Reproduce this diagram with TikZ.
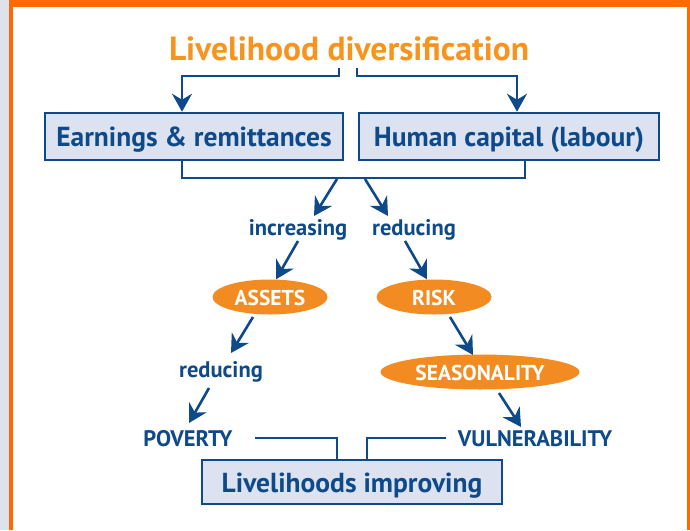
\documentclass[tikz,border=0pt]{standalone}
\usepackage{fontspec}
\setmainfont{PT Sans}
\usetikzlibrary{arrows.meta,shapes.geometric,calc}
\definecolor{dblue}{HTML}{0E4A8A}
\definecolor{boxfill}{HTML}{DCE2F0}
\definecolor{titleor}{HTML}{F7941D}
\definecolor{ellor}{HTML}{F28C22}
\definecolor{frameor}{HTML}{FF6A00}
\definecolor{strip}{HTML}{DDE3EC}
\tikzset{
  conn/.style={draw=dblue, line width=2.6pt},
  arr/.style={conn, -{Stealth[length=18pt,width=20pt,inset=6pt]}},
  bluebox/.style={text height=20pt, text depth=0pt, draw=dblue, line width=2.5pt, fill=boxfill, inner sep=0pt,
     text=dblue, font=\fontsize{27.5}{30}\selectfont\bfseries},
  lbl/.style={text height=14.5pt, text depth=0pt, text=dblue, inner sep=1pt, font=\fontsize{22.5}{25}\selectfont\bfseries},
  oval/.style={text height=16pt, text depth=0pt, ellipse, fill=ellor, inner sep=0pt, minimum height=35pt,
     text=white, font=\fontsize{21.5}{24}\selectfont\bfseries},
  ttl/.style={text height=21pt, text depth=0pt, text=titleor, inner sep=0pt, font=\fontsize{33.5}{36}\selectfont\bfseries}
}
\begin{document}
\begin{tikzpicture}[x=1pt,y=-1pt]
% frame
\useasboundingbox (0,0) rectangle (690,530);
\fill[white] (0,0) rectangle (690,530);
\fill[strip] (0,0) rectangle (9,530);
\fill[frameor] (9,0) rectangle (12.5,530);
\fill[frameor] (9,0) rectangle (690,7);
\fill[frameor] (687,0) rectangle (690,530);
% nodes
\node[ttl] (title) at (349,50) {Livelihood diversification};
\node[bluebox, minimum width=298pt, minimum height=47pt] (earn) at (194,136.5) {Earnings \& remittances};
\node[bluebox, minimum width=300pt, minimum height=47pt] (hum) at (509,136.5) {Human capital (labour)};
\node[lbl] (inc) at (298,228) {increasing};
\node[lbl] (red1) at (414,228) {reducing};
\node[oval, minimum width=115pt] (assets) at (270,297) {ASSETS};
\node[oval, minimum width=115pt] (risk) at (434,297) {RISK};
\node[lbl] (red2) at (221,370) {reducing};
\node[oval, minimum width=199pt] (seas) at (480,372) {SEASONALITY};
\node[lbl] (pov) at (188,439) {POVERTY};
\node[lbl] (vul) at (535,439) {VULNERABILITY};
\node[bluebox, minimum width=300pt, minimum height=44pt] (impr) at (352,482) {Livelihoods improving};
% connectors from title
\coordinate (t1) at (339,68);
\coordinate (t2) at (357,68);
\draw[arr] (t1) |- (182,76) -- (earn.north -| 182,0);
\draw[arr] (t2) |- (517,76) -- (hum.north -| 517,0);
% bracket under boxes
\draw[conn] (earn.south -| 182,0) |- (525,178) -- (hum.south -| 525,0);
\coordinate (b1) at (337,179);
\coordinate (b2) at (365,179);
\draw[arr] (b1) -- (314,216);
\draw[arr] (b2) -- (388,216);
\draw[arr] (298,241) -- (assets.north -| 276,0);
\draw[arr] (405,241) -- (risk.north -| 427,0);
\draw[arr] (253,317) -- (231,353);
\draw[arr] (450,317) -- (473,355);
\draw[arr] (209,388) -- (189,423);
\draw[arr] (499,393) -- (521,427);
% to bottom box
\draw[conn] ($(pov.east)+(21,-1)$) -| (impr.north -| 337,0);
\draw[conn] ($(vul.west)+(-11,-1)$) -| (impr.north -| 367,0);
\end{tikzpicture}
\end{document}
